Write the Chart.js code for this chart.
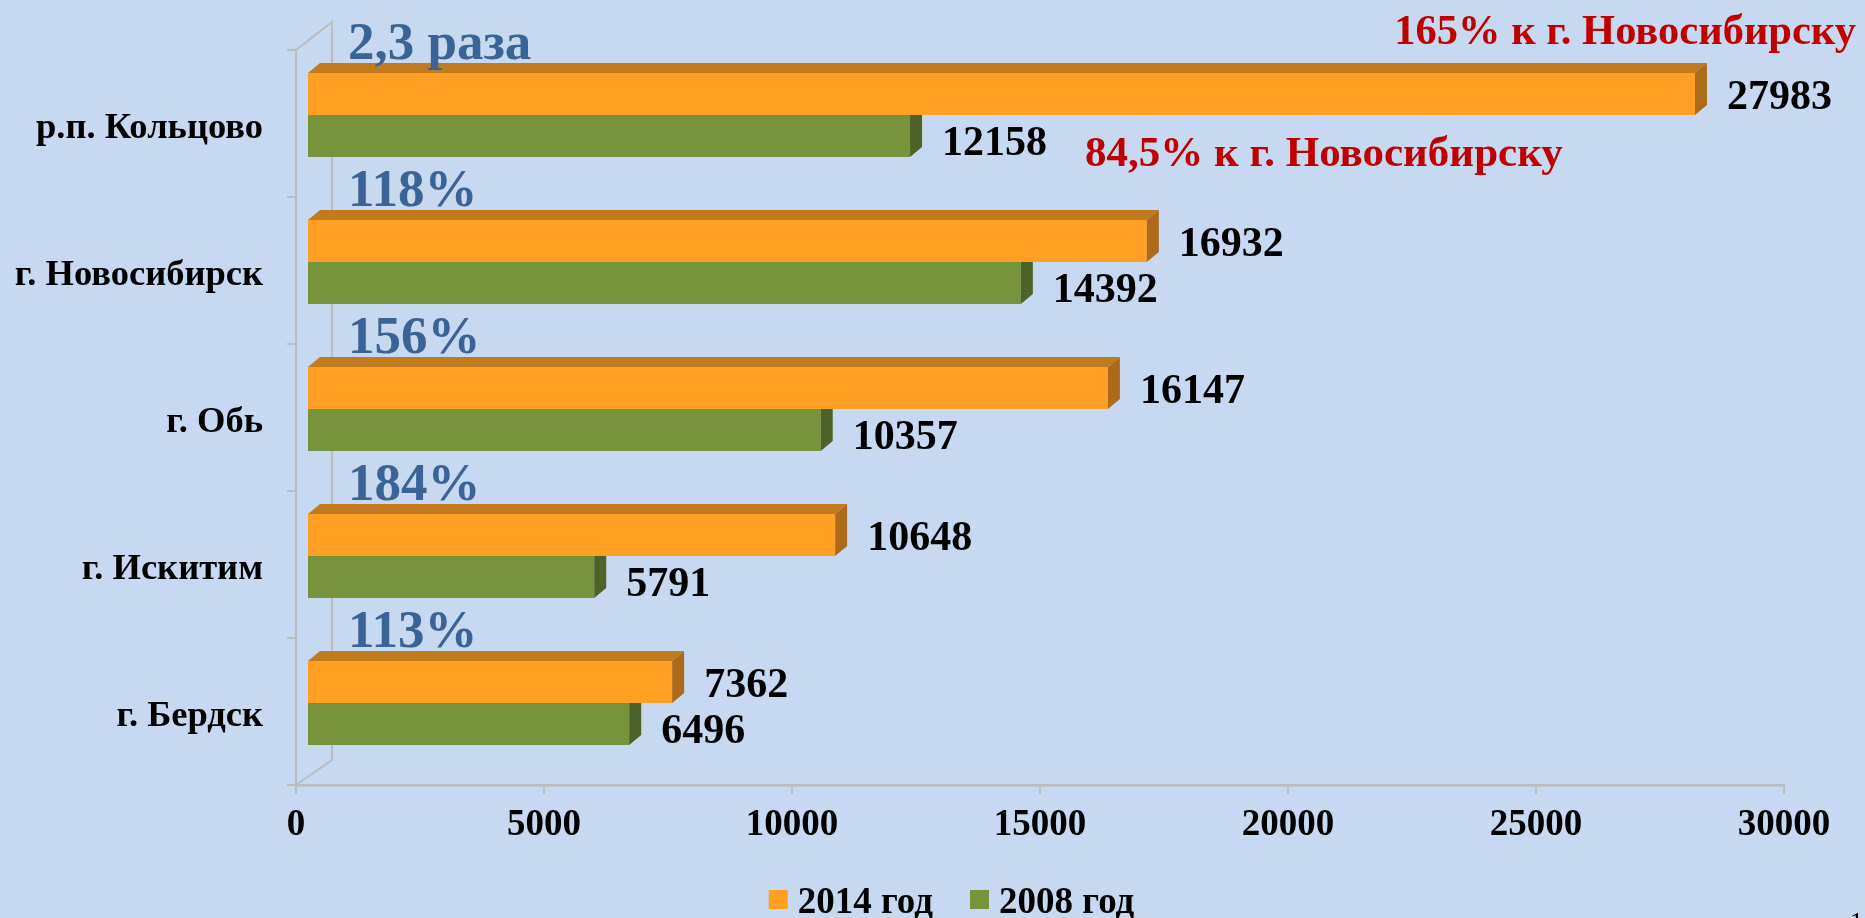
<!DOCTYPE html>
<html><head><meta charset="utf-8">
<script src="https://cdn.jsdelivr.net/npm/chart.js@4/dist/chart.umd.min.js"></script>
<style>html,body{margin:0;padding:0;background:#C6D9F0;overflow:hidden}canvas{display:block}</style>
</head><body>
<canvas id="c" width="1865" height="918"></canvas>
<script>
const categories = ['р.п. Кольцово', 'г. Новосибирск', 'г. Обь', 'г. Искитим', 'г. Бердск'];
const values2014 = [27983, 16932, 16147, 10648, 7362];
const values2008 = [12158, 14392, 10357, 5791, 6496];
const seriesNames = ['2014 год', '2008 год'];
const growthLabels = ['2,3 раза', '118%', '156%', '184%', '113%'];
const noteLabels = ['165% к г. Новосибирску', '84,5% к г. Новосибирску'];
const xMin = 0, xMax = 30000, xStep = 5000;
const pageNumber = '1';

const FONT = "'Liberation Serif','Times New Roman',serif";
const GRID = '#BCBCBC';
const SHIFT = {x: 11, y: -8.5};
const DEPTH = {dx: 12, dy: -10};
const frontColors = ['#FF9F23', '#77933C'];
const faceColors = [{top: '#C27A1F', side: '#AD6A18'}, {top: '#5E7530', side: '#4E6228'}];

const threeD = {
  id: 'threeD',
  beforeDatasetsDraw(chart) {
    const ctx = chart.ctx, a = chart.chartArea;
    ctx.save();
    ctx.strokeStyle = GRID; ctx.lineWidth = 2;
    ctx.beginPath();
    ctx.moveTo(a.left, a.top); ctx.lineTo(a.left + 36, a.top - 28);
    ctx.lineTo(a.left + 36, a.bottom - 25); ctx.lineTo(a.left, a.bottom);
    ctx.stroke();
    ctx.restore();
    ctx.save();
    ctx.translate(SHIFT.x, SHIFT.y);
  },
  afterDatasetDraw(chart, args) {
    const ctx = chart.ctx, fc = faceColors[args.index];
    args.meta.data.forEach(el => {
      const p = el.getProps(['x', 'y', 'base', 'height'], true);
      const top = p.y - p.height / 2, bot = p.y + p.height / 2;
      ctx.fillStyle = fc.top;
      ctx.beginPath();
      ctx.moveTo(p.base, top); ctx.lineTo(p.base + DEPTH.dx, top + DEPTH.dy);
      ctx.lineTo(p.x + DEPTH.dx, top + DEPTH.dy); ctx.lineTo(p.x, top);
      ctx.closePath(); ctx.fill();
      ctx.fillStyle = fc.side;
      ctx.beginPath();
      ctx.moveTo(p.x, top); ctx.lineTo(p.x + DEPTH.dx, top + DEPTH.dy);
      ctx.lineTo(p.x + DEPTH.dx, bot + DEPTH.dy); ctx.lineTo(p.x, bot);
      ctx.closePath(); ctx.fill();
    });
  },
  afterDatasetsDraw(chart) {
    const ctx = chart.ctx;
    ctx.restore();
    const a = chart.chartArea;
    ctx.save();
    ctx.font = 'bold 42px ' + FONT;
    ctx.fillStyle = '#000';
    ctx.textAlign = 'left'; ctx.textBaseline = 'alphabetic';
    chart.data.datasets.forEach((ds, i) => {
      const meta = chart.getDatasetMeta(i);
      meta.data.forEach((el, j) => {
        const p = el.getProps(['x', 'y'], true);
        ctx.fillText(String(ds.data[j]), p.x + SHIFT.x + 32, p.y + SHIFT.y + (i === 0 ? 15 : 19));
      });
    });
    const ys = chart.scales.y;
    const band = (a.bottom - a.top) / categories.length;
    ctx.font = 'bold 53px ' + FONT;
    ctx.fillStyle = '#3A6496';
    growthLabels.forEach((t, i) => {
      const catTop = ys.getPixelForValue(i) - band / 2;
      ctx.fillText(t, a.left + 52, catTop + 9);
    });
    ctx.font = 'bold 42.5px ' + FONT;
    ctx.fillStyle = '#C00000';
    ctx.textAlign = 'right';
    ctx.fillText(noteLabels[0], chart.width - 9, a.top - 6);
    ctx.textAlign = 'left';
    ctx.font = 'bold 43px ' + FONT;
    ctx.fillText(noteLabels[1], a.left + 789, a.top + 116);
    ctx.restore();
  },
  afterDraw(chart) {
    const ctx = chart.ctx;
    ctx.save();
    ctx.font = 'bold 37px ' + FONT;
    ctx.textBaseline = 'alphabetic';
    const items = chart.data.datasets.map(ds => ({label: ds.label, color: ds.backgroundColor, w: ctx.measureText(ds.label).width}));
    const box = 19, gapText = 10, gapItem = 37;
    let total = 0;
    items.forEach((it, i) => { total += box + gapText + it.w + (i ? gapItem : 0); });
    let x = chart.width / 2 + 19 - total / 2;
    const cy = 900;
    items.forEach((it, i) => {
      if (i) x += gapItem;
      ctx.fillStyle = it.color;
      ctx.fillRect(x, cy - 10, box, box);
      x += box + gapText;
      ctx.fillStyle = '#000';
      ctx.fillText(it.label, x, cy + 13);
      x += it.w;
    });
    ctx.font = '26px ' + FONT;
    ctx.textAlign = 'right';
    ctx.fillText(pageNumber, chart.width - 2, chart.height + 12);
    ctx.restore();
  }
};

new Chart(document.getElementById('c'), {
  type: 'bar',
  data: {
    labels: categories,
    datasets: [
      {label: seriesNames[0], data: values2014, backgroundColor: frontColors[0], categoryPercentage: 0.571, barPercentage: 1, clip: false},
      {label: seriesNames[1], data: values2008, backgroundColor: frontColors[1], categoryPercentage: 0.571, barPercentage: 1, clip: false}
    ]
  },
  options: {
    indexAxis: 'y',
    responsive: false,
    animation: false,
    devicePixelRatio: 1,
    layout: {padding: {left: 0, right: 81, top: 50, bottom: 0}},
    plugins: {legend: {display: false}, tooltip: {enabled: false}, title: {display: false}},
    scales: {
      x: {
        min: xMin, max: xMax,
        ticks: {stepSize: xStep, font: {family: FONT, size: 37, weight: 'bold'}, color: '#000', padding: 9, maxRotation: 0,
          callback: v => String(v)},
        grid: {drawOnChartArea: false, tickLength: 9, color: GRID, lineWidth: 2},
        border: {color: GRID, width: 2.5},
        afterFit(s) { s.height = 133; }
      },
      y: {
        offset: true,
        ticks: {font: {family: FONT, size: 36.5, weight: 'bold'}, color: '#000', padding: 24, labelOffset: 5},
        grid: {offset: true, drawOnChartArea: false, tickLength: 9, color: GRID, lineWidth: 2},
        border: {color: GRID, width: 2},
        afterFit(s) { s.width = 296; }
      }
    }
  },
  plugins: [threeD]
});
</script>
</body></html>
